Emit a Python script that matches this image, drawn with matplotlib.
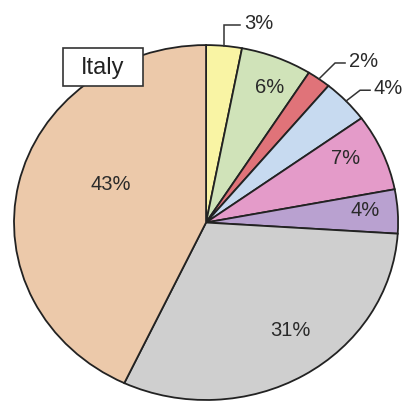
import numpy as np
import matplotlib
matplotlib.use("Agg")
import matplotlib.pyplot as plt
from matplotlib.patches import Rectangle

# ---- data ----
labels = ["3%", "6%", "2%", "4%", "7%", "4%", "31%", "43%"]
values = [3, 6, 2, 4, 7, 4, 31, 43]
colors = ["#F9F4A4", "#D0E3B9", "#E07379", "#C7DAF0",
          "#E49BC9", "#B9A1D0", "#CFCFCF", "#ECC9AA"]
title_label = "Italy"

# label placement style: (inside?, radius, angle offset deg)
inside = [False, True, False, False, True, True, True, True]
lab_r = [None, 0.83, None, None, 0.81, 0.83, 0.75, 0.54]
lab_dt = [0, -2, 0, 0, 3, 1, 5, -11]
# leader elbows for outside labels (dx, dy of elbow, horizontal length)
elbow = {0: (0.0, 0.117, 0.083), 2: (0.084, 0.09, 0.052), 3: (0.073, 0.061, 0.052)}

plt.rcParams['font.family'] = ['Liberation Sans', 'DejaVu Sans']
fig = plt.figure(figsize=(4.10, 4.03), dpi=100)
ax = fig.add_axes([0, 0, 1, 1])
wedges, _ = ax.pie(values, colors=colors, startangle=90, counterclock=False,
                   wedgeprops=dict(edgecolor="#222222", linewidth=1.3))
ax.set_aspect('auto')
ax.set_xlim(-1.073, 1.062)
ax.set_ylim(-1.017, 1.254)
ax.axis('off')

txtc = "#2a2a2a"
for i, w in enumerate(wedges):
    mid = np.deg2rad((w.theta1 + w.theta2) / 2 + lab_dt[i])
    if inside[i]:
        r = lab_r[i]
        ax.text(r*np.cos(mid), r*np.sin(mid), labels[i], ha='center', va='center',
                fontsize=14.5, color=txtc)
    else:
        x0, y0 = np.cos(mid), np.sin(mid)
        dx, dy, hl = elbow[i]
        x1, y1 = x0 + dx, y0 + dy
        x2 = x1 + hl
        ax.plot([x0, x1, x2], [y0, y1, y1], color="#333333", lw=1.1,
                solid_joinstyle='miter')
        ax.text(x2 + 0.02, y1 + 0.01, labels[i], ha='left', va='center',
                fontsize=14.5, color=txtc)

# Italy box
bx, by, bw, bh = -0.536, 0.876, 0.417, 0.214
ax.add_patch(Rectangle((bx - bw/2, by - bh/2), bw, bh, facecolor='white',
                       edgecolor='#333333', lw=1.2, zorder=5))
ax.text(bx, by - 0.005, title_label, ha='center', va='center', fontsize=17,
        color='#222222', zorder=6)

fig.savefig("out.png", dpi=100)
